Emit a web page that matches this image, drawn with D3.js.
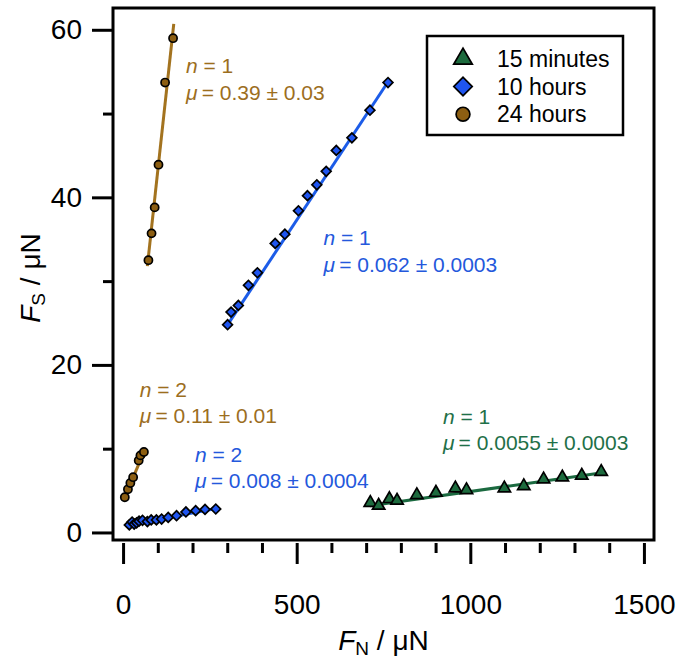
<!DOCTYPE html>
<html>
<head>
<meta charset="utf-8">
<script src="https://cdn.jsdelivr.net/npm/d3@7"></script>
<style>
  body { margin: 0; background: #fff; }
  svg text { font-family: "Liberation Sans", Arial, Helvetica, sans-serif; }
</style>
</head>
<body>
<svg id="chart" width="677" height="661"></svg>
<script>
// series: [FN (µN), FS (µN)]
let min15 = [[712, 3.55], [736, 3.2], [767, 4.0], [789, 3.8], [846, 4.47], [901, 4.75], [957, 5.27],
  [989, 5.07], [1098, 5.27], [1154, 5.55], [1211, 6.35], [1265, 6.58], [1321, 6.78], [1377, 7.25]];
let hr10a = [[301, 24.8], [311, 26.3], [332, 27.1], [361, 29.5], [387, 31.0], [438, 34.5], [466, 35.6],
  [505, 38.4], [531, 40.2], [558, 41.5], [585, 43.1], [614, 45.6], [659, 47.1], [711, 50.4], [763, 53.7]];
let hr10b = [[18, 0.9], [26, 1.25], [32, 1.0], [39, 1.15], [46, 1.35], [56, 1.45], [70, 1.3], [81, 1.5],
  [96, 1.5], [111, 1.6], [130, 1.8], [154, 2.0], [181, 2.45], [209, 2.6], [236, 2.75], [267, 2.8]];
let hr24a = [[73, 32.5], [82, 35.7], [91, 38.8], [102, 43.9], [121, 53.7], [144, 59.0]];
let hr24b = [[5, 4.2], [14, 5.15], [21, 5.9], [29, 6.6], [45, 8.6], [50, 9.2], [60, 9.6]];

// fitted lines (endpoints)
let fitMin15 = [[711, 3.18], [1380, 7.13]];
let fit10a = [[298, 24.6], [768, 54.1]];
let fit10b = [[15, 0.9], [268, 2.85]];
let fit24a = [[70, 31.8], [146, 60.7]];
let fit24b = [[4, 4.1], [61, 9.7]];

let xMajor = [0, 500, 1000, 1500];
let xMinor = [100, 200, 300, 400, 600, 700, 800, 900, 1100, 1200, 1300, 1400];
let yMajor = [0, 20, 40, 60];
let yMinor = [10, 30, 50];

let legendNames = ["15 minutes", "10 hours", "24 hours"];

// annotation text: [n, mu, x, y(first line)]
let notes = [
  ["1", "0.39 ± 0.03", 181, 54.8, "brown"],
  ["1", "0.062 ± 0.0003", 577, 34.3, "blue"],
  ["2", "0.11 ± 0.01", 48, 16.2, "brown"],
  ["2", "0.008 ± 0.0004", 207, 8.45, "blue"],
  ["1", "0.0055 ± 0.0003", 921, 13.0, "green"]
];

let col = {
  green: { fill: "#1d6b3e", line: "#1b6a40", text: "#1f7048" },
  blue: { fill: "#1f55f0", line: "#1c5ce8", text: "#2458dc" },
  brown: { fill: "#8c5e12", line: "#a3731f", text: "#9c6e1e" }
};

let svg = d3.select("#chart");
let mLeft = 113, mRight = 654, mTop = 8, mBottom = 540;

let x = d3.scaleLinear().domain([-29, 1529]).range([mLeft, mRight]);
let y = d3.scaleLinear().domain([-0.9, 62.6]).range([mBottom, mTop]);

let plot = svg.append("g");

// fit lines
let line = d3.line().x(d => x(d[0])).y(d => y(d[1]));
[[fitMin15, "green"], [fit10a, "blue"], [fit10b, "blue"], [fit24a, "brown"], [fit24b, "brown"]]
  .forEach(([pts, c]) => {
    plot.append("path")
      .attr("d", line(pts))
      .attr("fill", "none")
      .attr("stroke", col[c].line)
      .attr("stroke-width", 3);
  });

let tri = d3.symbol().type(d3.symbolTriangle);
let dia = d3.symbol().type(d3.symbolSquare);

function markers(data, kind, c, size) {
  let g = plot.append("g");
  let sel = g.selectAll("path").data(data).enter().append("path")
    .attr("fill", col[c].fill)
    .attr("stroke", "#000")
    .attr("stroke-width", 1.7);
  if (kind === "tri") {
    sel.attr("d", tri.size(size)())
      .attr("transform", d => `translate(${x(d[0])},${y(d[1])})`);
  } else if (kind === "dia") {
    sel.attr("d", dia.size(size)())
      .attr("transform", d => `translate(${x(d[0])},${y(d[1])}) rotate(45)`);
  } else {
    sel.attr("d", d3.symbol().type(d3.symbolCircle).size(size)())
      .attr("transform", d => `translate(${x(d[0])},${y(d[1])})`);
  }
}

markers(hr10b, "dia", "blue", 48);
markers(hr10a, "dia", "blue", 48);
markers(min15, "tri", "green", 66);
markers(hr24b, "circ", "brown", 52);
markers(hr24a, "circ", "brown", 52);

// annotations
notes.forEach(([n, mu, ax, ay, c]) => {
  let t1 = svg.append("text")
    .attr("x", x(ax)).attr("y", y(ay))
    .attr("fill", col[c].text)
    .style("font-size", "21px");
  t1.append("tspan").style("font-style", "italic").text("n");
  t1.append("tspan").text(" = " + n);
  let t2 = svg.append("text")
    .attr("x", x(ax)).attr("y", y(ay) + 26.5)
    .attr("fill", col[c].text)
    .style("font-size", "21px");
  t2.append("tspan").style("font-style", "italic").text("μ");
  t2.append("tspan").text("\u2009= " + mu);
});

// frame
svg.append("rect")
  .attr("x", mLeft).attr("y", mTop)
  .attr("width", mRight - mLeft).attr("height", mBottom - mTop)
  .attr("fill", "none")
  .attr("stroke", "#000")
  .attr("stroke-width", 3);

// axes
let xAxis = svg.append("g").attr("transform", `translate(0,${mBottom + 3})`)
  .call(d3.axisBottom(x).tickValues(xMajor).tickSize(21).tickPadding(30).tickFormat(d3.format("d")));
let xAxisMinor = svg.append("g").attr("transform", `translate(0,${mBottom + 3})`)
  .call(d3.axisBottom(x).tickValues(xMinor).tickSize(10).tickFormat(""));
let yAxis = svg.append("g").attr("transform", `translate(${mLeft},0)`)
  .call(d3.axisLeft(y).tickValues(yMajor).tickSize(21).tickPadding(10).tickFormat(d3.format("d")));
let yAxisMinor = svg.append("g").attr("transform", `translate(${mLeft},0)`)
  .call(d3.axisLeft(y).tickValues(yMinor).tickSize(10).tickFormat(""));

[xAxis, xAxisMinor, yAxis, yAxisMinor].forEach(a => {
  a.select(".domain").remove();
  a.selectAll(".tick line").attr("stroke", "#000").attr("stroke-width", 3);
  a.selectAll(".tick text")
    .attr("fill", "#000")
    .style("font-size", "28px")
    .style("font-family", "'Liberation Sans', Arial, sans-serif");
});

// axis titles
let xt = svg.append("text")
  .attr("x", (mLeft + mRight) / 2)
  .attr("y", 650)
  .attr("text-anchor", "middle")
  .style("font-size", "28px");
xt.append("tspan").style("font-style", "italic").text("F");
xt.append("tspan").attr("baseline-shift", "-25%").style("font-size", "19px").text("N");
xt.append("tspan").text(" / μN");

let yt = svg.append("text")
  .attr("transform", `translate(40,${(mTop + mBottom) / 2 + 4}) rotate(-90)`)
  .attr("text-anchor", "middle")
  .style("font-size", "28px");
yt.append("tspan").style("font-style", "italic").text("F");
yt.append("tspan").attr("baseline-shift", "-25%").style("font-size", "19px").text("S");
yt.append("tspan").text(" / μN");

// legend
let legend = svg.append("g");
legend.append("rect")
  .attr("x", 427).attr("y", 36)
  .attr("width", 196).attr("height", 99)
  .attr("fill", "#fff")
  .attr("stroke", "#000")
  .attr("stroke-width", 2.5);

let legendSym = [
  { c: "green", d: d3.symbol().type(d3.symbolTriangle).size(150)(), rot: 0 },
  { c: "blue", d: d3.symbol().type(d3.symbolSquare).size(170)(), rot: 45 },
  { c: "brown", d: d3.symbol().type(d3.symbolCircle).size(150)(), rot: 0 }
];
let ly = d3.scaleBand().domain(legendNames).range([45, 128]);
legendNames.forEach((name, i) => {
  let cy = ly(name) + ly.bandwidth() / 2;
  legend.append("path")
    .attr("d", legendSym[i].d)
    .attr("transform", `translate(463,${cy}) rotate(${legendSym[i].rot})`)
    .attr("fill", col[legendSym[i].c].fill)
    .attr("stroke", "#000")
    .attr("stroke-width", 1.7);
  legend.append("text")
    .attr("x", 497).attr("y", cy + 8)
    .style("font-size", "23px")
    .text(name);
});
</script>
</body>
</html>
